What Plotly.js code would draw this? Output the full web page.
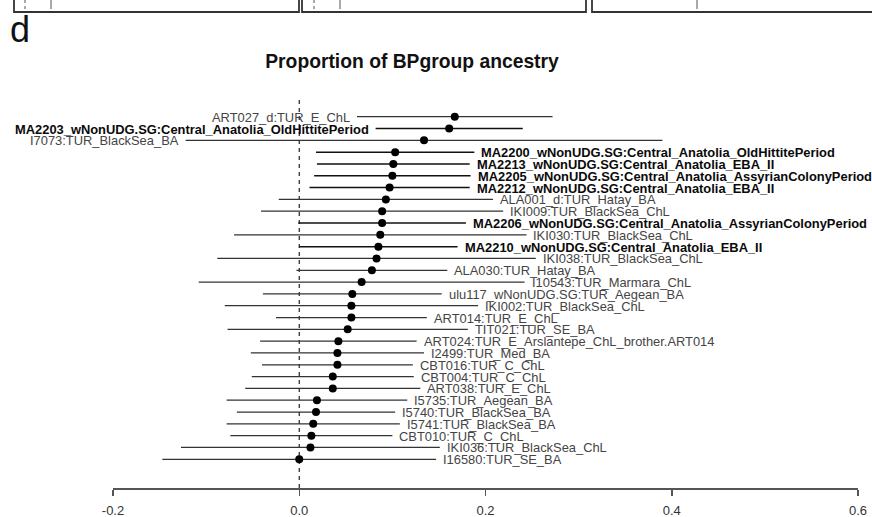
<!DOCTYPE html>
<html>
<head>
<meta charset="utf-8">
<script src="https://cdn.plot.ly/plotly-3.0.1.min.js"></script>
<style>
  html, body { margin: 0; padding: 0; background: #fff; }
  #chart { width: 872px; height: 517px; }
</style>
</head>
<body>
<div id="chart"></div>
<script>
// Sample labels, top to bottom
const samples = [
  'ART027_d:TUR_E_ChL',
  'MA2203_wNonUDG.SG:Central_Anatolia_OldHittitePeriod',
  'I7073:TUR_BlackSea_BA',
  'MA2200_wNonUDG.SG:Central_Anatolia_OldHittitePeriod',
  'MA2213_wNonUDG.SG:Central_Anatolia_EBA_II',
  'MA2205_wNonUDG.SG:Central_Anatolia_AssyrianColonyPeriod',
  'MA2212_wNonUDG.SG:Central_Anatolia_EBA_II',
  'ALA001_d:TUR_Hatay_BA',
  'IKI009:TUR_BlackSea_ChL',
  'MA2206_wNonUDG.SG:Central_Anatolia_AssyrianColonyPeriod',
  'IKI030:TUR_BlackSea_ChL',
  'MA2210_wNonUDG.SG:Central_Anatolia_EBA_II',
  'IKI038:TUR_BlackSea_ChL',
  'ALA030:TUR_Hatay_BA',
  'I10543:TUR_Marmara_ChL',
  'ulu117_wNonUDG.SG:TUR_Aegean_BA',
  'IKI002:TUR_BlackSea_ChL',
  'ART014:TUR_E_ChL',
  'TIT021:TUR_SE_BA',
  'ART024:TUR_E_Arslantepe_ChL_brother.ART014',
  'I2499:TUR_Med_BA',
  'CBT016:TUR_C_ChL',
  'CBT004:TUR_C_ChL',
  'ART038:TUR_E_ChL',
  'I5735:TUR_Aegean_BA',
  'I5740:TUR_BlackSea_BA',
  'I5741:TUR_BlackSea_BA',
  'CBT010:TUR_C_ChL',
  'IKI036:TUR_BlackSea_ChL',
  'I16580:TUR_SE_BA'
];

// Estimated proportion of BPgroup ancestry
const estimates = [
  0.167, 0.161, 0.134, 0.103, 0.101, 0.100, 0.097, 0.093, 0.089, 0.089,
  0.087, 0.085, 0.083, 0.078, 0.067, 0.057, 0.056, 0.056, 0.052, 0.042,
  0.041, 0.041, 0.036, 0.036, 0.019, 0.018, 0.015, 0.013, 0.012, 0.000
];

// Half-width of the confidence interval
const ciHalfWidth = [
  0.105, 0.079, 0.256, 0.085, 0.082, 0.084, 0.086, 0.115, 0.130, 0.090,
  0.157, 0.085, 0.171, 0.081, 0.175, 0.096, 0.136, 0.081, 0.129, 0.084,
  0.093, 0.081, 0.087, 0.094, 0.097, 0.085, 0.093, 0.087, 0.139, 0.147
];

// Axis ticks
const xTickValues = [-0.2, 0.0, 0.2, 0.4, 0.6];
const xTickLabels = ['-0.2', '0.0', '0.2', '0.4', '0.6'];

// ---- layout geometry (pixels) ----
const W = 872, H = 517;
const M = { l: 113, r: 14, t: 100, b: 29 };
const plotW = W - M.l - M.r, plotH = H - M.t - M.b;
const px2paperX = px => (px - M.l) / plotW;
const py2paperY = py => (H - M.b - py) / plotH;

const FONT = 'Liberation Sans, Arial, Helvetica, sans-serif';
const LEFT_LABEL_ROWS = 3;   // first rows carry their label on the left
const rows = samples.map((_, i) => i + 1);
const isBold = samples.map(s => s.startsWith('MA22'));

function pick(arr, flag) { return arr.filter((_, i) => isBold[i] === flag); }

function groupTrace(flag) {
  return {
    type: 'scatter',
    mode: 'markers',
    x: pick(estimates, flag),
    y: pick(rows, flag),
    marker: { size: 8, color: '#000' },
    error_x: {
      type: 'data', symmetric: true, array: pick(ciHalfWidth, flag),
      width: 0, thickness: flag ? 1.5 : 1.25, color: flag ? '#111' : '#333'
    },
    hoverinfo: 'skip',
    showlegend: false,
    cliponaxis: false
  };
}

const labelAnnotations = samples.map((name, i) => {
  const left = i < LEFT_LABEL_ROWS;
  return {
    xref: 'x', yref: 'y',
    x: left ? estimates[i] - ciHalfWidth[i] : estimates[i] + ciHalfWidth[i],
    y: rows[i],
    xanchor: left ? 'right' : 'left',
    yanchor: 'middle',
    xshift: left ? -5 : 5,
    yshift: -0.5,
    showarrow: false,
    text: isBold[i] ? '<b>' + name + '</b>' : name,
    font: { family: FONT, size: 12.9, color: isBold[i] ? '#0a0a0a' : '#444' }
  };
});

// Edges of the neighbouring panels above this one
const panelShapes = [];
[[14, 299], [302, 586], [592, 900]].forEach(([a, b]) => {
  panelShapes.push({
    type: 'rect', xref: 'paper', yref: 'paper',
    x0: px2paperX(a), x1: px2paperX(b), y0: py2paperY(12), y1: py2paperY(-6),
    line: { color: '#333', width: 1.8 }, fillcolor: 'rgba(0,0,0,0)'
  });
});
[[25, 'dot'], [51, 'solid'], [314, 'dot'], [340, 'solid'], [697, 'solid']].forEach(([x, d]) => {
  panelShapes.push({
    type: 'line', xref: 'paper', yref: 'paper',
    x0: px2paperX(x), x1: px2paperX(x), y0: py2paperY(9), y1: py2paperY(0),
    line: { color: '#555', width: 1, dash: d }
  });
});

const layout = {
  width: W, height: H,
  margin: M,
  paper_bgcolor: '#fff', plot_bgcolor: '#fff',
  showlegend: false,
  title: {
    text: '<b>Proportion of BPgroup ancestry</b>',
    font: { family: FONT, size: 19.3, color: '#111' },
    xref: 'container', yref: 'container',
    x: 412 / W, xanchor: 'center',
    y: 1 - 61 / H, yanchor: 'middle'
  },
  xaxis: {
    range: [-0.2, 0.6],
    tickvals: xTickValues, ticktext: xTickLabels,
    showline: true, linecolor: '#555', linewidth: 1.5,
    ticks: 'outside', ticklen: 6, tickwidth: 1.5, tickcolor: '#555',
    ticklabelstandoff: 4,
    tickfont: { family: FONT, size: 13, color: '#333' },
    showgrid: false, zeroline: false, fixedrange: true
  },
  yaxis: {
    range: [32.43, -0.414],
    visible: false, showgrid: false, zeroline: false, fixedrange: true
  },
  shapes: [
    {
      type: 'line', xref: 'x', yref: 'paper', layer: 'below',
      x0: 0, x1: 0, y0: 0, y1: 1,
      line: { color: '#222', width: 1.2, dash: '4px,4px' }
    }
  ].concat(panelShapes),
  annotations: labelAnnotations.concat([
    {
      xref: 'paper', yref: 'paper',
      x: px2paperX(8), y: py2paperY(30),
      xanchor: 'left', yanchor: 'middle', showarrow: false,
      text: 'd', font: { family: FONT, size: 36, color: '#111' }
    }
  ])
};

Plotly.newPlot('chart', [groupTrace(false), groupTrace(true)], layout, {
  displayModeBar: false, staticPlot: true
});
</script>
</body>
</html>
